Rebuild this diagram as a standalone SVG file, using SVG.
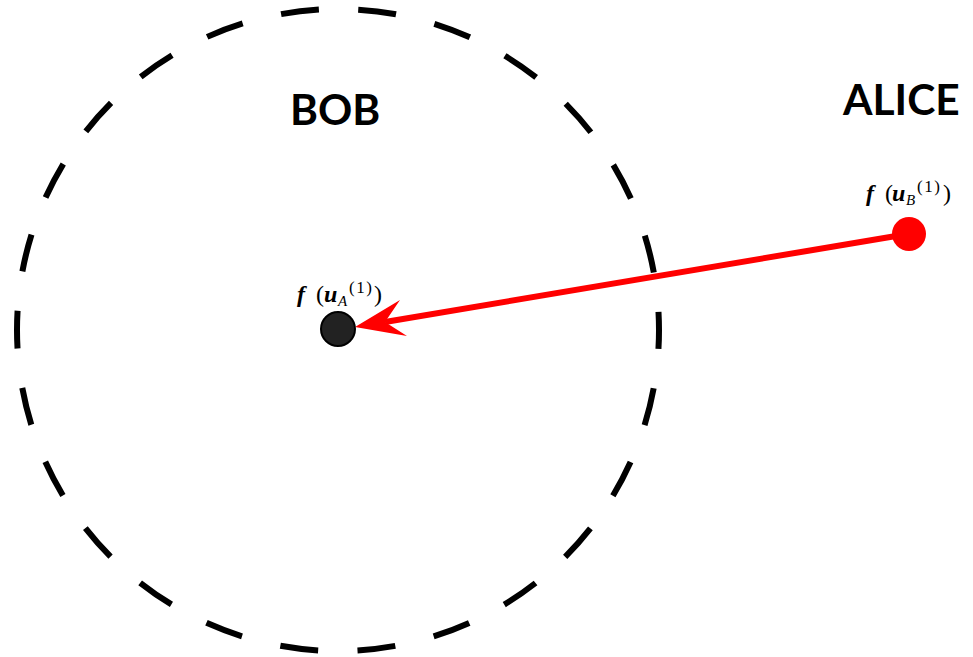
<svg xmlns="http://www.w3.org/2000/svg" width="973" height="657" viewBox="0 0 973 657">
<style>
.title{font-family:Lato,"Liberation Sans",sans-serif;font-weight:bold;font-size:42.5px;fill:#000}
.math{font-family:"Liberation Serif","DejaVu Serif",serif;font-size:24px;fill:#000}
.bi{font-weight:bold;font-style:italic}
.it{font-style:italic}
.sub{font-size:15px}
.sup{font-size:17px;letter-spacing:1.5px}
</style>
<rect width="973" height="657" fill="#fff"/>
<g id="boundary">
<circle cx="338" cy="330" r="321" fill="none" stroke="#000" stroke-width="6" stroke-dasharray="38 39.57" stroke-dashoffset="19"/>
</g>
<g id="bob-label"><text class="title" x="290" y="125">BOB</text></g>
<g id="alice-label"><text class="title" x="843" y="115">ALICE</text></g>
<g id="connectors">
<line x1="908" y1="234" x2="385" y2="322" stroke="#f00" stroke-width="6"/>
<polygon points="355,327 400,300 385,322 407,336" fill="#f00"/>
</g>
<g id="node-a">
<circle cx="338" cy="329" r="17" fill="#222" stroke="#000" stroke-width="2"/>
<text class="math" y="302"><tspan class="bi" x="297">f</tspan><tspan x="316">(</tspan><tspan class="bi" x="324">u</tspan><tspan class="it sub" x="338" y="306">A</tspan><tspan class="sup" x="349" y="293">(1)</tspan><tspan x="374" y="302">)</tspan></text>
</g>
<g id="node-b">
<circle cx="909" cy="234" r="17" fill="#f00"/>
<text class="math" y="201"><tspan class="bi" x="866">f</tspan><tspan x="885">(</tspan><tspan class="bi" x="892">u</tspan><tspan class="it sub" x="906" y="205">B</tspan><tspan class="sup" x="917" y="192">(1)</tspan><tspan x="943" y="201">)</tspan></text>
</g>
</svg>
